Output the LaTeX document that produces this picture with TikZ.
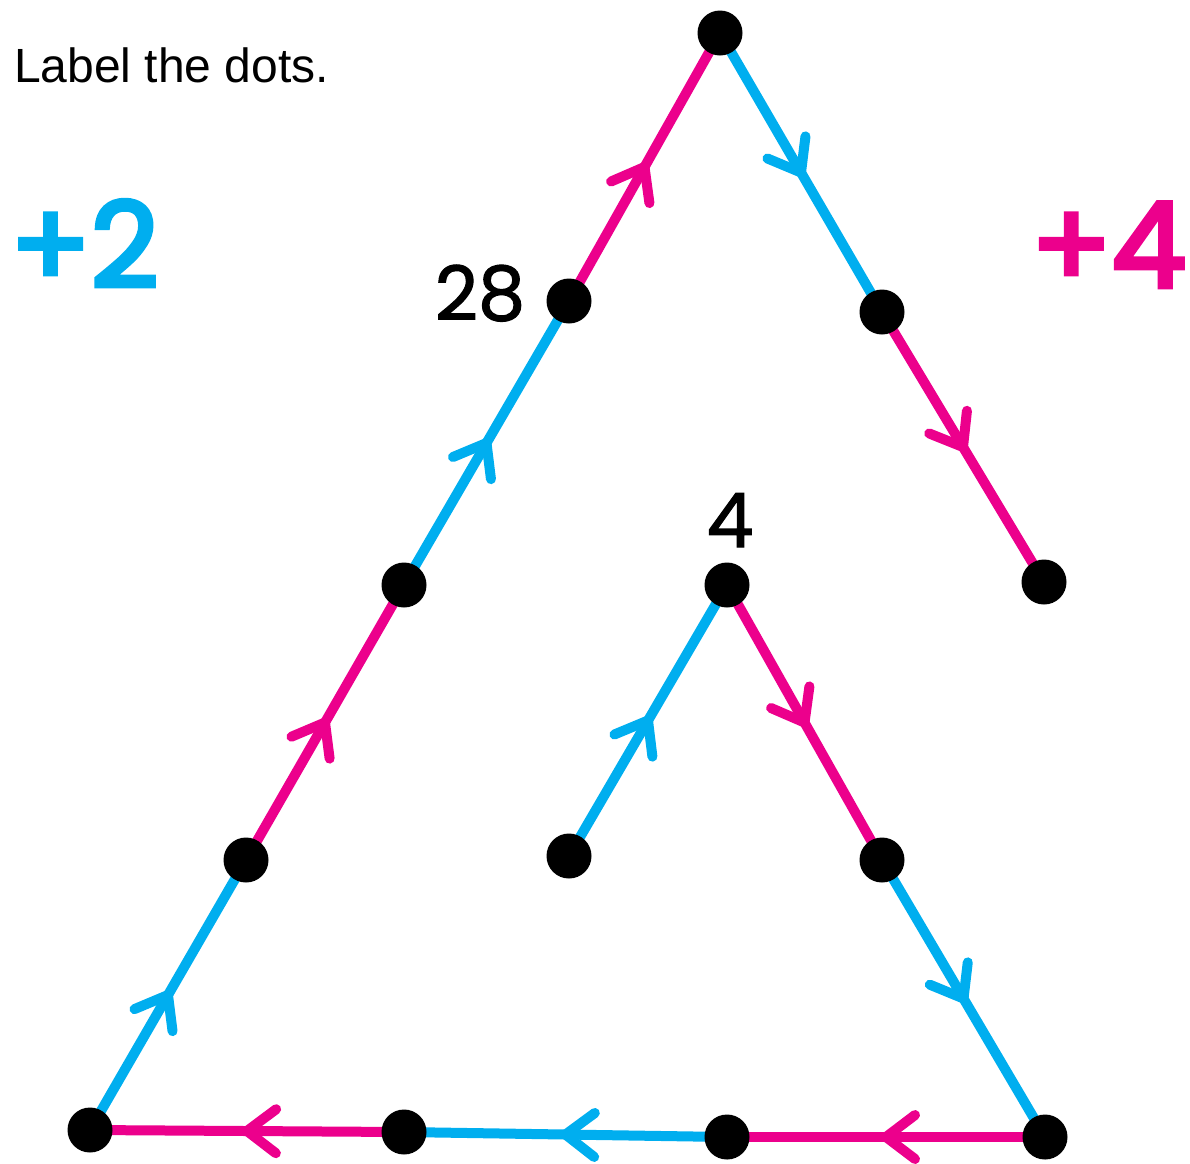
\documentclass[tikz,border=0pt]{standalone}
\usepackage{fontspec}
\setmainfont{Liberation Sans}
\newfontfamily\hand{Poppins}[FakeBold=1.5]
\newfontfamily\handb{Poppins}[FakeBold=4]
\usetikzlibrary{backgrounds,decorations.markings}
\definecolor{cblue}{HTML}{00AEEF}
\definecolor{cmag}{HTML}{EC008C}
\tikzset{
  dot/.style={circle,fill=black,minimum size=45pt,inner sep=0pt},
  seg/.style={line width=10pt,line cap=round,
    postaction={decorate,decoration={markings,mark=at position 0.5 with {\draw[line width=10pt,line cap=round,line join=round] (-29pt,22pt) -- (0pt,0pt) -- (-29pt,-22pt);}}}},
  bseg/.style={seg,draw=cblue},
  mseg/.style={seg,draw=cmag},
  numlbl/.style={font=\hand\fontsize{75}{78}\selectfont,inner sep=0pt},
  bigb/.style={font=\handb\fontsize{118}{120}\selectfont,inner sep=0pt},
}
\begin{document}
\begin{tikzpicture}[x=1pt,y=-1pt]
\useasboundingbox (0,0) rectangle (1190,1163);
\node[dot] (A) at (720,33) {};
\node[dot] (B) at (569,301) {};
\node[dot] (C) at (404,585) {};
\node[dot] (D) at (246,860) {};
\node[dot] (E) at (90,1130) {};
\node[dot] (F) at (404,1132) {};
\node[dot] (G) at (727,1137) {};
\node[dot] (H) at (1045,1137) {};
\node[dot] (I) at (882,860) {};
\node[dot] (J) at (727,585) {};
\node[dot] (K) at (569,856) {};
\node[dot] (L) at (882,312) {};
\node[dot] (M) at (1044,582) {};
\begin{pgfonlayer}{background}
\draw[bseg] (K.center) -- (J.center);
\draw[mseg] (J.center) -- (I.center);
\draw[bseg] (I.center) -- (H.center);
\draw[mseg] (H.center) -- (G.center);
\draw[bseg] (G.center) -- (F.center);
\draw[mseg] (F.center) -- (E.center);
\draw[bseg] (E.center) -- (D.center);
\draw[mseg] (D.center) -- (C.center);
\draw[bseg] (C.center) -- (B.center);
\draw[mseg] (B.center) -- (A.center);
\draw[bseg] (A.center) -- (L.center);
\draw[mseg] (L.center) -- (M.center);
\end{pgfonlayer}
\node[anchor=base west,inner sep=0pt,font=\fontsize{48}{50}\selectfont] (title) at (14,82) {Label the dots.};
\node[bigb,text=cblue,anchor=base west] (p2) at (10,287) {+2};
\node[bigb,text=cmag,anchor=base east] (p4) at (1186,287) {+4};
\node[numlbl,anchor=base] (n28) at (480,320) {28};
\node[numlbl,anchor=base] (n4) at (730,547) {4};
\end{tikzpicture}
\end{document}
